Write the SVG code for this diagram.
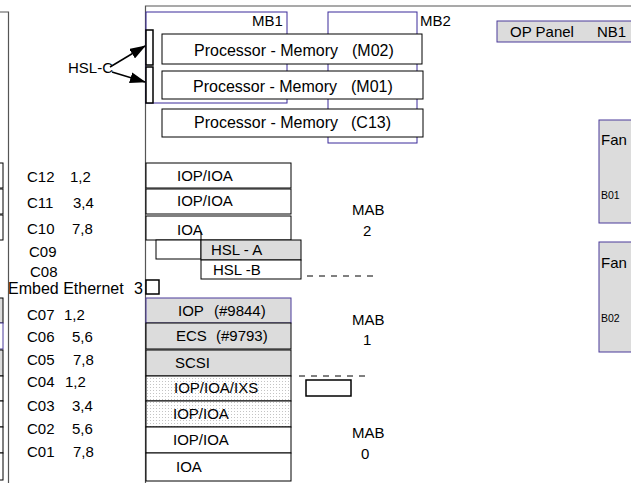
<svg xmlns="http://www.w3.org/2000/svg" width="631" height="483" viewBox="0 0 631 483">
<style>
text{font-family:"Liberation Sans",Arial,sans-serif;font-size:15px;fill:#000;white-space:pre}
.pm{font-size:16px}
.bx{fill:#fff;stroke:#000;stroke-width:1}
.gy{fill:#dcdcdc;stroke:#000;stroke-width:1}
.gp{fill:#dcdcdc;stroke:#4b3a9a;stroke-width:1}
.dt{fill:url(#dots);stroke:#000;stroke-width:1}
.pu{fill:none;stroke:#3a2a9a;stroke-width:1}
.fr{fill:none;stroke:#555;stroke-width:1.2}
.sm{font-size:10.5px}
</style>
<defs>
<pattern id="dots" width="3" height="3" patternUnits="userSpaceOnUse">
<rect width="3" height="3" fill="#fff"/>
<rect width="1" height="1" fill="#c4c4c4"/>
</pattern>
<marker id="ah" markerWidth="16" markerHeight="11" refX="15" refY="5.5" orient="auto" markerUnits="userSpaceOnUse">
<path d="M0,0 L16,5.5 L0,11 z" fill="#000"/>
</marker>
</defs>

<g id="left-frame">
<path class="fr" d="M0,12 H8.5 V483"/>
<rect class="bx" x="-5" y="163" width="8" height="25"/>
<rect class="bx" x="-5" y="189" width="8" height="25"/>
<rect class="bx" x="-5" y="215" width="8" height="25"/>
<rect class="gy" x="-5" y="298" width="8" height="25"/>
<rect class="bx" x="-5" y="323" width="8" height="26" style="stroke:#4b3a9a"/>
<rect class="gy" x="-5" y="350" width="8" height="26"/>
<rect class="bx" x="-5" y="376" width="8" height="25"/>
<rect class="bx" x="-5" y="401" width="8" height="26"/>
<rect class="bx" x="-5" y="427" width="8" height="26"/>
<rect class="bx" x="-5" y="453" width="8" height="27"/>
</g>

<g id="main-frame">
<path class="fr" d="M631,6 H145.5 V483"/>
</g>

<g id="slot-labels">
<text x="27" y="182">C12</text><text x="70" y="182">1,2</text>
<text x="27" y="208">C11</text><text x="73" y="208">3,4</text>
<text x="27" y="234">C10</text><text x="72" y="234">7,8</text>
<text x="29" y="257">C09</text>
<text x="30" y="277">C08</text>
<text x="8" y="294" style="font-size:16px">Embed Ethernet</text><text x="134" y="294" style="font-size:16px">3</text>
<text x="27" y="320">C07</text><text x="64" y="320">1,2</text>
<text x="27" y="342">C06</text><text x="72" y="342">5,6</text>
<text x="27" y="365">C05</text><text x="73" y="365">7,8</text>
<text x="27" y="387">C04</text><text x="65" y="387">1,2</text>
<text x="27" y="411">C03</text><text x="72" y="411">3,4</text>
<text x="27" y="434">C02</text><text x="72" y="434">5,6</text>
<text x="27" y="457">C01</text><text x="73" y="457">7,8</text>
</g>

<g id="mb1"><rect class="pu" x="146" y="12" width="141" height="91"/><text x="252" y="26">MB1</text></g>
<g id="mb2"><rect class="pu" x="328" y="12" width="89" height="131"/><text x="420" y="26">MB2</text></g>

<g id="pm-m02"><rect class="bx" x="162" y="34" width="260" height="30"/><text class="pm" x="194" y="56">Processor - Memory</text><text class="pm" x="352" y="56">(M02)</text></g>
<g id="pm-m01"><rect class="bx" x="162" y="71" width="261" height="28"/><text class="pm" x="193" y="92">Processor - Memory</text><text class="pm" x="351" y="92">(M01)</text></g>
<g id="pm-c13"><rect class="bx" x="162" y="109" width="261" height="28"/><text class="pm" x="194" y="128">Processor - Memory</text><text class="pm" x="351" y="128">(C13)</text></g>

<g id="hsl-c">
<rect x="146" y="30" width="7" height="35" fill="#fff" stroke="#000" stroke-width="1.5"/>
<rect x="146" y="67" width="7" height="36" fill="#fff" stroke="#000" stroke-width="1.5"/>
<text x="68" y="73">HSL-C</text>
</g>

<g id="op-panel"><rect class="gp" x="497" y="21" width="140" height="21"/><text x="510" y="37">OP Panel</text><text x="597" y="37">NB1</text></g>
<g id="fan-b01"><rect class="gp" x="599" y="120" width="40" height="103"/><text x="601" y="145">Fan</text><text class="sm" x="601" y="199">B01</text></g>
<g id="fan-b02"><rect class="gp" x="599" y="242" width="40" height="110"/><text x="601" y="268">Fan</text><text class="sm" x="601" y="322">B02</text></g>

<g id="c12"><rect class="bx" x="146" y="163" width="145" height="25"/><text x="177" y="181">IOP/IOA</text></g>
<g id="c11"><rect class="bx" x="146" y="189" width="145" height="25"/><text x="177" y="206">IOP/IOA</text></g>
<g id="c10"><rect class="bx" x="146" y="216" width="145" height="24"/><text x="177" y="235">IOA</text></g>
<g id="c09"><rect class="bx" x="156" y="240" width="45" height="19"/><rect class="gy" x="201" y="240" width="100" height="20"/><text x="211" y="255">HSL - A</text></g>
<g id="c08"><rect class="bx" x="201" y="260" width="100" height="19"/><text x="213" y="275">HSL -B</text></g>
<g id="eth"><rect x="146" y="280" width="13" height="14" fill="#fff" stroke="#000" stroke-width="1.5"/></g>
<g id="c07"><rect class="gp" x="146" y="298" width="145" height="25"/><text x="178" y="316">IOP</text><text x="214" y="316">(#9844)</text></g>
<g id="c06"><rect class="gy" x="146" y="323" width="145" height="26"/><text x="176" y="341">ECS</text><text x="216" y="341">(#9793)</text></g>
<g id="c05"><rect class="gy" x="146" y="350" width="145" height="26"/><text x="175" y="368">SCSI</text></g>
<g id="c04"><rect class="dt" x="146" y="376" width="145" height="25"/><text x="174" y="393">IOP/IOA/IXS</text></g>
<g id="c03"><rect class="dt" x="146" y="401" width="145" height="26"/><text x="173" y="419">IOP/IOA</text></g>
<g id="c02"><rect class="bx" x="146" y="427" width="145" height="26"/><text x="173" y="445">IOP/IOA</text></g>
<g id="c01"><rect class="bx" x="146" y="453" width="145" height="28"/><text x="176" y="472">IOA</text></g>

<g id="mab2"><text x="352" y="215">MAB</text><text x="363" y="236">2</text></g>
<g id="mab1"><text x="352" y="325">MAB</text><text x="363" y="345">1</text></g>
<g id="mab0"><text x="352" y="438">MAB</text><text x="361" y="459">0</text></g>
<g id="mab-box"><rect x="306" y="380" width="45" height="16" fill="#fff" stroke="#000" stroke-width="1.5"/></g>

<g id="connectors">
<line x1="110" y1="67" x2="145" y2="46" stroke="#000" stroke-width="1.5" marker-end="url(#ah)"/>
<line x1="112" y1="72" x2="145" y2="82" stroke="#000" stroke-width="1.5" marker-end="url(#ah)"/>
<line x1="307" y1="276" x2="374" y2="276" stroke="#000" stroke-dasharray="6,6"/>
<line x1="299" y1="376" x2="371" y2="376" stroke="#000" stroke-dasharray="6,6"/>
<line x1="201" y1="232" x2="201" y2="240" stroke="#000"/>
</g>
</svg>
